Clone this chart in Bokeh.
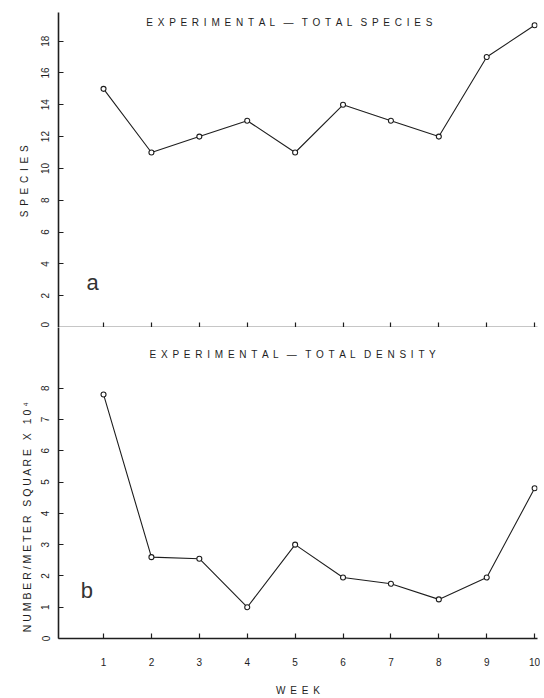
import math
from bokeh.plotting import figure
from bokeh.layouts import column
from bokeh.models import Label, FixedTicker, Range1d
from bokeh.embed import file_html
from bokeh.resources import INLINE

# ---- data ----
weeks = [1, 2, 3, 4, 5, 6, 7, 8, 9, 10]
species = [15, 11, 12, 13, 11, 14, 13, 12, 17, 19]
density = [7.8, 2.6, 2.55, 1.0, 3.0, 1.95, 1.75, 1.25, 1.95, 4.8]
species_ticks = [0, 2, 4, 6, 8, 10, 12, 14, 16, 18]
density_ticks = [0, 1, 2, 3, 4, 5, 6, 7, 8]
week_ticks = [1, 2, 3, 4, 5, 6, 7, 8, 9, 10]

top_title = "EXPERIMENTAL — TOTAL SPECIES"
bottom_title = "EXPERIMENTAL — TOTAL DENSITY"
top_ylabel = "SPECIES"
bottom_ylabel = "NUMBER/METER SQUARE X 10⁴"
xlabel = "WEEK"

FONT = "Liberation Sans"
INK = "#1e1e1e"
NB = "\u00a0"
TH = "\u2009"


def spaced(s, sep=" " + TH, gap=NB * 3):
    words = s.split(" ")
    return gap.join(sep.join(list(w)) for w in words)


def style(p):
    p.grid.visible = False
    p.outline_line_color = None
    p.background_fill_color = "white"
    p.border_fill_color = "white"
    for ax in (p.xaxis[0], p.yaxis[0]):
        ax.axis_line_color = INK
        ax.axis_line_width = 1.6
        ax.major_tick_line_color = INK
        ax.major_tick_line_width = 1.2
        ax.major_tick_in = 5
        ax.major_tick_out = 0
        ax.minor_tick_line_color = None
        ax.major_label_text_font = FONT
        ax.major_label_text_font_size = "10px"
        ax.major_label_text_color = INK
    p.yaxis[0].major_label_orientation = "vertical"
    p.yaxis[0].major_label_standoff = 9
    p.yaxis[0].axis_label_text_font = FONT
    p.yaxis[0].axis_label_text_font_style = "normal"
    p.yaxis[0].axis_label_text_font_size = "10px"
    p.yaxis[0].axis_label_text_color = INK
    p.yaxis[0].axis_label_standoff = 9


x_rng = (0.06, 10.06)

# ---- top panel ----
top = figure(width=540, height=327, x_range=Range1d(*x_rng), y_range=Range1d(0, 19.8),
             output_backend="svg", toolbar_location=None,
             min_border_left=58, min_border_right=3, min_border_top=12, min_border_bottom=0)
style(top)
top.yaxis[0].ticker = FixedTicker(ticks=species_ticks)
top.yaxis[0].axis_label = spaced(top_ylabel) + NB * 8
top.xaxis[0].ticker = FixedTicker(ticks=week_ticks)
top.xaxis[0].major_label_overrides = {w: "" for w in week_ticks}
top.xaxis[0].major_label_text_font_size = "0px"
top.xaxis[0].major_label_standoff = 0

top.line(weeks, species, line_color=INK, line_width=1.1)
top.scatter(weeks, species, size=5, fill_color="white", line_color=INK, line_width=1.1)

top.add_layout(Label(x=4.9, y=19.2, text=spaced(top_title), text_font=FONT, text_font_size="10px",
                     text_align="center", text_baseline="middle", text_color=INK))
top.add_layout(Label(x=0.77, y=2.84, text="a", text_font=FONT, text_font_size="22px",
                     text_align="center", text_baseline="middle", text_color="#333333"))

# ---- bottom panel ----
bot = figure(width=540, height=371, x_range=Range1d(*x_rng), y_range=Range1d(0, 9.94),
             output_backend="svg", toolbar_location=None,
             min_border_left=58, min_border_right=3, min_border_top=0, min_border_bottom=60)
style(bot)
bot.yaxis[0].ticker = FixedTicker(ticks=density_ticks)
bot.yaxis[0].axis_label = spaced(bottom_ylabel, sep=" ") + NB * 23
bot.yaxis[0].axis_label_text_font_size = "10.5px"
bot.yaxis[0].axis_label_standoff = 6
bot.xaxis[0].ticker = FixedTicker(ticks=week_ticks)
bot.xaxis[0].major_label_standoff = 19
bot.xaxis[0].axis_label = spaced(xlabel)
bot.xaxis[0].axis_label_text_font = FONT
bot.xaxis[0].axis_label_text_font_style = "normal"
bot.xaxis[0].axis_label_text_font_size = "10px"
bot.xaxis[0].axis_label_standoff = 16
bot.xaxis[0].axis_label_text_color = INK

bot.line(weeks, density, line_color=INK, line_width=1.1)
bot.scatter(weeks, density, size=5, fill_color="white", line_color=INK, line_width=1.1)

bot.add_layout(Label(x=4.97, y=9.07, text=spaced(bottom_title), text_font=FONT, text_font_size="10px",
                     text_align="center", text_baseline="middle", text_color=INK))
bot.add_layout(Label(x=0.65, y=1.53, text="b", text_font=FONT, text_font_size="22px",
                     text_align="center", text_baseline="middle", text_color="#333333"))

layout = column(top, bot, spacing=0)
open("out.html", "w").write(file_html(layout, INLINE))
